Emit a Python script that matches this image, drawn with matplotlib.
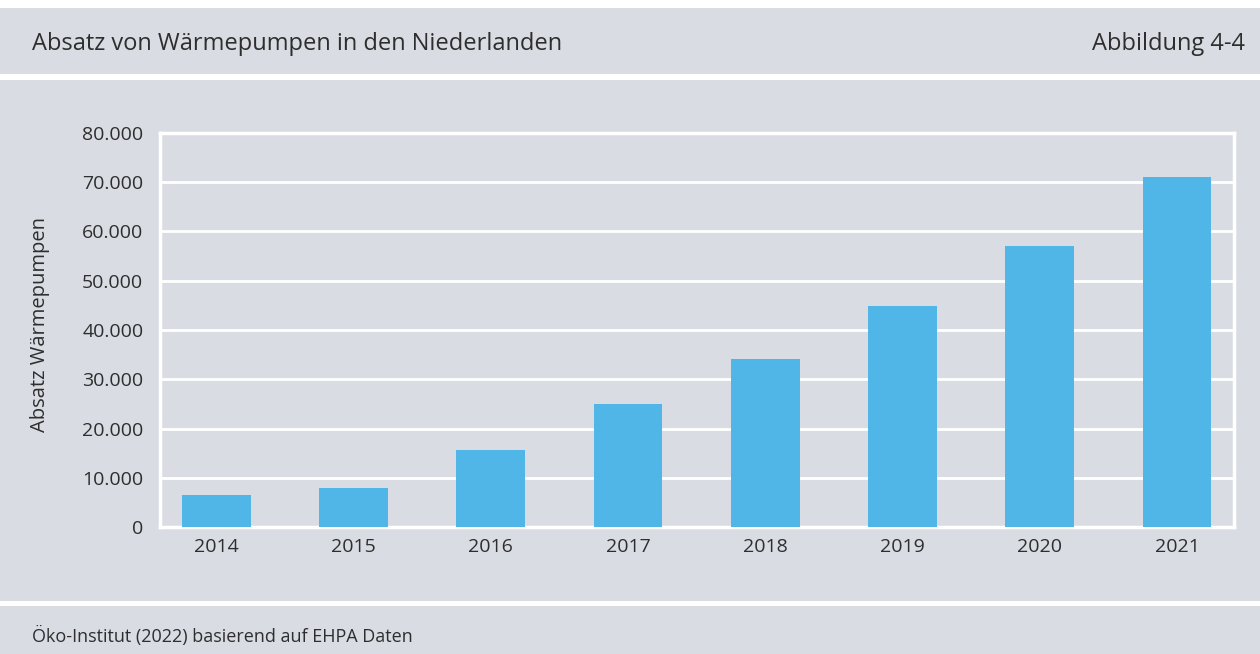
import matplotlib.pyplot as plt
from matplotlib.patches import Rectangle

years = ['2014', '2015', '2016', '2017', '2018', '2019', '2020', '2021']
sales = [6500, 7900, 15700, 25000, 34200, 44900, 57100, 71100]
y_ticks = [0, 10000, 20000, 30000, 40000, 50000, 60000, 70000, 80000]
y_labels = ['0', '10.000', '20.000', '30.000', '40.000', '50.000', '60.000', '70.000', '80.000']

bg = '#d9dce3'
bar_color = '#50b6e7'
text_color = '#2e2e2e'

plt.rcParams['font.family'] = ['Open Sans', 'DejaVu Sans']

W, H = 1260, 654
fig = plt.figure(figsize=(12.6, 6.54), dpi=100)
fig.patch.set_facecolor('white')

# grey panels: header, chart, footer
for y0, y1 in [(8, 74), (80, 601), (606, 654)]:
    fig.add_artist(Rectangle((0, 1 - y1 / H), 1, (y1 - y0) / H,
                             transform=fig.transFigure, facecolor=bg, edgecolor='none', zorder=0))

fig.text(32 / W, 1 - 44 / H, 'Absatz von Wärmepumpen in den Niederlanden',
         fontsize=17, color=text_color, va='center', ha='left')
fig.text(1245 / W, 1 - 44 / H, 'Abbildung 4-4',
         fontsize=17, color=text_color, va='center', ha='right')
fig.text(32 / W, 1 - 636 / H, 'Öko-Institut (2022) basierend auf EHPA Daten',
         fontsize=13, color=text_color, va='center', ha='left')
fig.text(40 / W, 1 - 325 / H, 'Absatz Wärmepumpen', rotation=90,
         fontsize=14.5, color=text_color, va='center', ha='center')

ax = fig.add_axes([160 / W, 1 - 527 / H, (1234 - 160) / W, (527 - 133) / H])
ax.set_facecolor(bg)
ax.bar(range(len(years)), sales, width=0.5, color=bar_color, zorder=3)

ax.set_xlim(-0.41, 7.415)
ax.set_ylim(0, 80000)
ax.set_yticks(y_ticks)
ax.set_yticklabels(y_labels)
ax.set_xticks(range(len(years)))
ax.set_xticklabels(years)
ax.tick_params(length=0, labelsize=14, colors=text_color)
ax.tick_params(axis='y', pad=12)
ax.tick_params(axis='x', pad=8)
ax.grid(axis='y', color='white', linewidth=2, zorder=1)
for s in ax.spines.values():
    s.set_color('white')
    s.set_linewidth(2.5)

plt.savefig('out.png', dpi=100, facecolor=fig.get_facecolor())
